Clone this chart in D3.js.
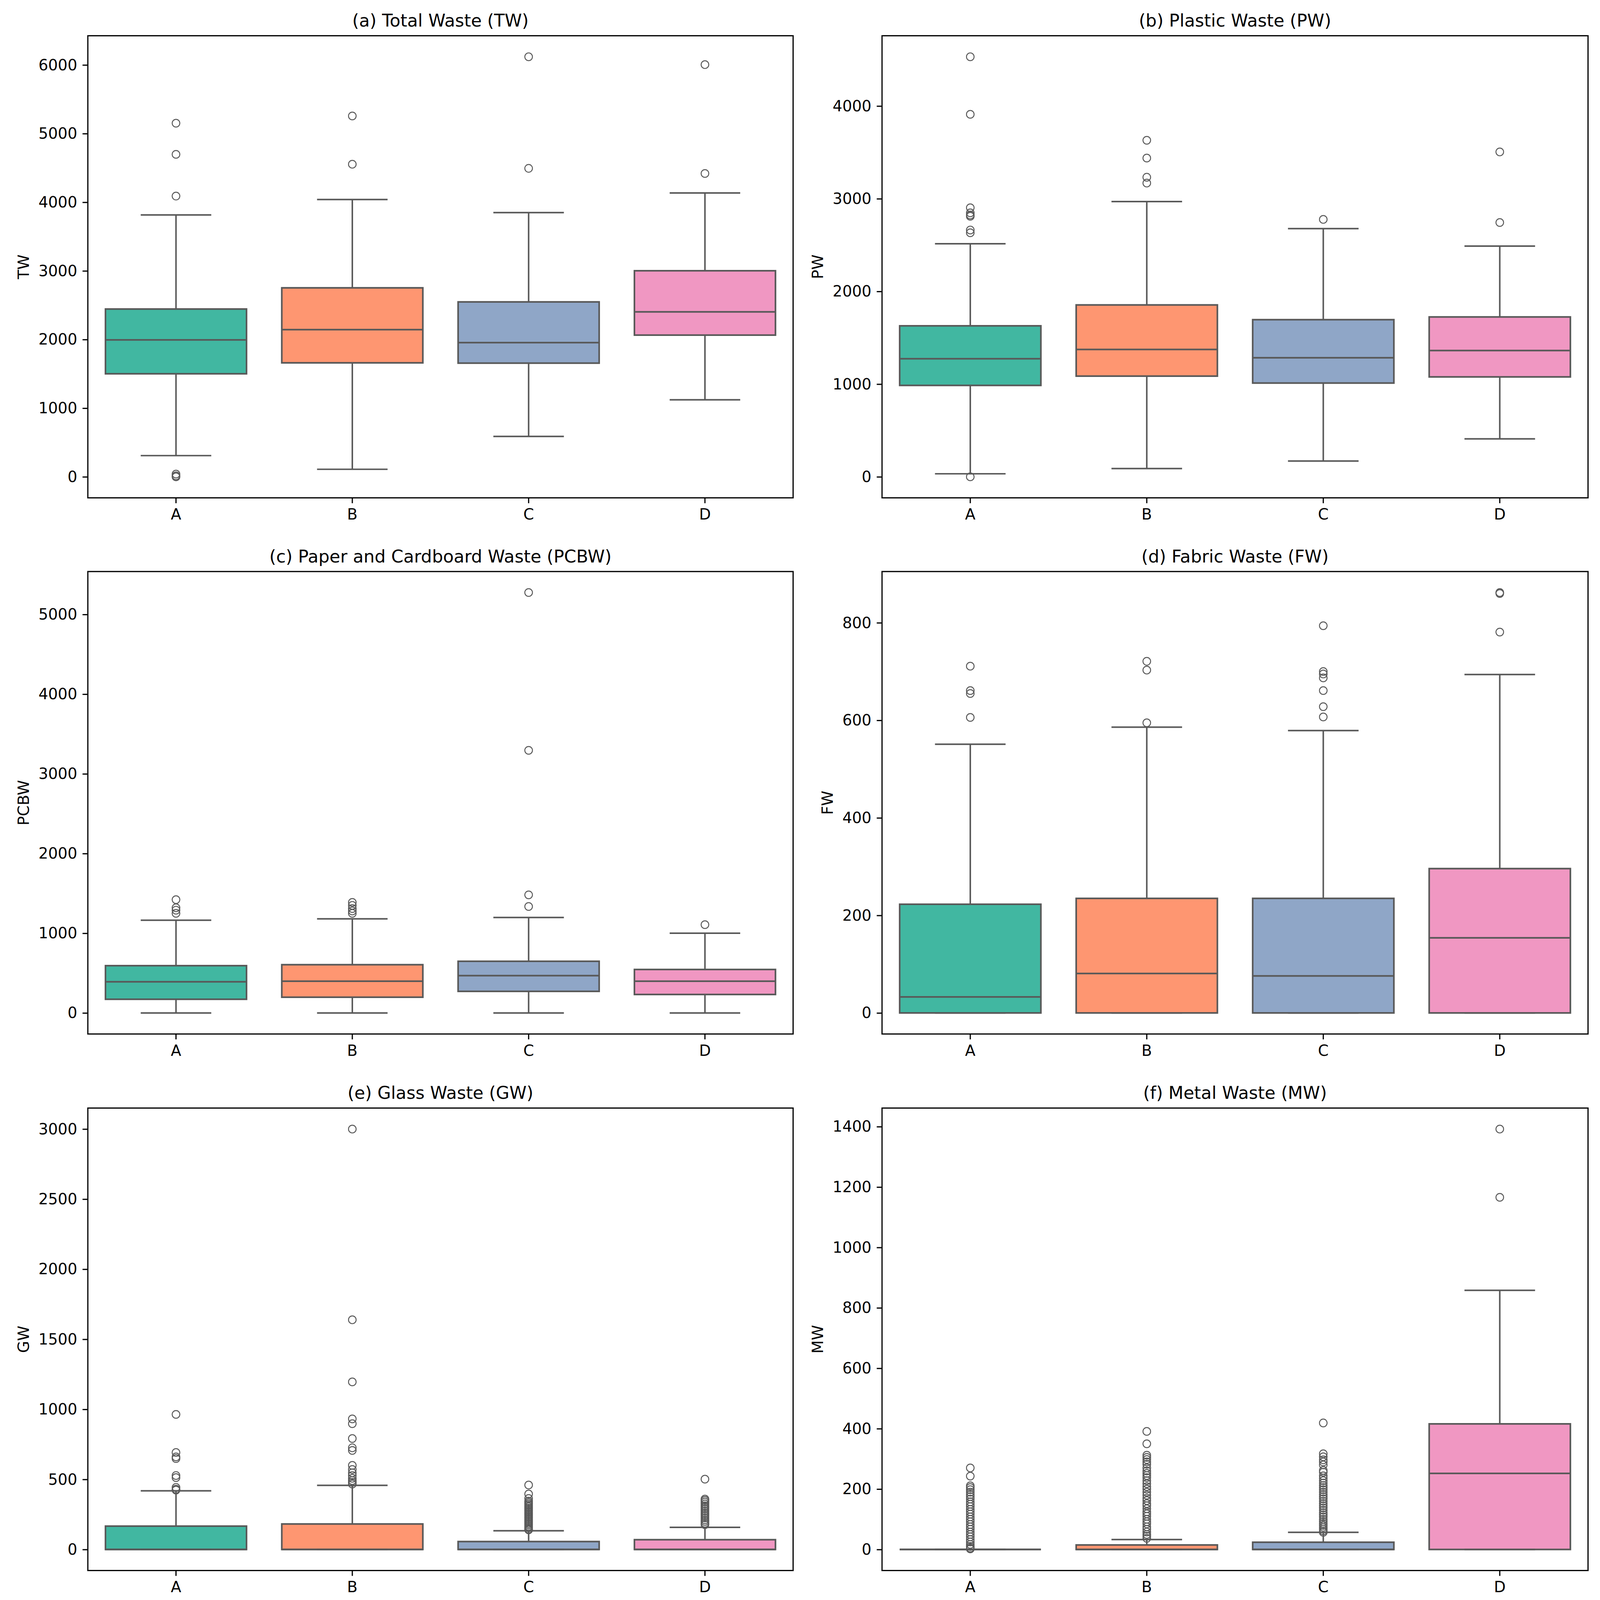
<!DOCTYPE html>
<html>

<head>
    <meta charset="utf-8">
    <title>Waste Composition by Group</title>
    <script src="https://d3js.org/d3.v7.min.js"></script>
    <style>
        html, body { margin: 0; padding: 0; background: #fff; overflow: hidden; }
        svg { display: block; }
        text { font-family: "DejaVu Sans", sans-serif; }
    </style>
</head>

<body>
    <div id="chart"></div>

    <script>
        // groups on the x axis
        var groups = ["A", "B", "C", "D"];
        var boxColors = ["#41b7a1", "#fe9671", "#8fa6c7", "#f097c2"];

        // box stats per group: [q1, median, q3, lower whisker, upper whisker]
        var twStats = [[1501, 1995, 2444, 309, 3815], [1661, 2145, 2753, 110, 4040], [1656, 1955, 2549, 589, 3850], [2065, 2404, 3002, 1122, 4135]];
        var twOutliers = [[5152, 4698, 4090, 40, 15, 0], [5257, 4554], [6120, 4494], [6005, 4419]];

        var pwStats = [[986, 1274, 1629, 33, 2515], [1086, 1374, 1854, 89, 2970], [1012, 1285, 1695, 170, 2678], [1078, 1363, 1725, 410, 2489]];
        var pwOutliers = [[4532, 3911, 2903, 2848, 2825, 2811, 2663, 2633, 0], [3631, 3439, 3232, 3169], [2777], [3505, 2744]];

        var pcbwStats = [[172, 391, 593, 0, 1164], [198, 399, 606, 0, 1181], [271, 468, 649, 0, 1198], [232, 399, 546, 0, 1001]];
        var pcbwOutliers = [[1422, 1320, 1290, 1250], [1387, 1350, 1310, 1280, 1250], [5275, 3295, 1482, 1336], [1108]];

        var fwStats = [[0, 33, 223, 0, 551], [0, 81, 235, 0, 586], [0, 76, 235, 0, 579], [0, 154, 296, 0, 694]];
        var fwOutliers = [[711, 661, 655, 606], [721, 703, 595], [794, 700, 695, 687, 661, 628, 607], [862, 860, 781]];

        var gwStats = [[0, 0, 167, 0, 419], [0, 0, 182, 0, 458], [0, 0, 57, 0, 134], [0, 0, 70, 0, 158]];
        var gwOutliers = [
            [964, 692, 661, 649, 528, 513, 443, 430, 424],
            [3000, 1639, 1196, 932, 898, 792, 726, 707, 600, 571, 547, 528, 508, 492, 479, 467],
            [460, 396, 364, 345, 335, 325, 315, 305, 295, 285, 275, 265, 255, 245, 235, 225, 215, 205, 195, 185, 175, 165, 155, 145, 140],
            [502, 360, 350, 338, 325, 312, 300, 288, 275, 262, 250, 238, 225, 212, 200, 188, 177]
        ];

        var mwStats = [[0, 0, 0, 0, 0], [0, 0, 15, 0, 33], [0, 0, 24, 0, 57], [0, 252, 416, 0, 858]];
        var mwOutliers = [
            [270, 243, 211, 205, 198, 190, 182, 175, 167, 158, 150, 142, 133, 125, 117, 108, 100, 92, 83, 75, 67, 58, 50, 42, 33, 25, 17, 10, 5, 2],
            [391, 350, 312, 305, 298, 290, 282, 270, 260, 252, 245, 238, 228, 218, 208, 200, 190, 180, 170, 162, 152, 145, 135, 125, 118, 110, 100, 92, 85, 75, 67, 58, 50, 44, 37],
            [419, 317, 307, 297, 290, 280, 262, 256, 244, 236, 228, 220, 212, 205, 198, 190, 182, 175, 168, 160, 152, 145, 138, 130, 122, 115, 108, 100, 93, 86, 80, 74, 68, 62, 57],
            [1392, 1166]
        ];

        // titles, axis labels and tick values
        var titles = ["(a) Total Waste (TW)", "(b) Plastic Waste (PW)", "(c) Paper and Cardboard Waste (PCBW)",
            "(d) Fabric Waste (FW)", "(e) Glass Waste (GW)", "(f) Metal Waste (MW)"];
        var yLabels = ["TW", "PW", "PCBW", "FW", "GW", "MW"];
        var twTicks = [0, 1000, 2000, 3000, 4000, 5000, 6000];
        var pwTicks = [0, 1000, 2000, 3000, 4000];
        var pcbwTicks = [0, 1000, 2000, 3000, 4000, 5000];
        var fwTicks = [0, 200, 400, 600, 800];
        var gwTicks = [0, 500, 1000, 1500, 2000, 2500, 3000];
        var mwTicks = [0, 200, 400, 600, 800, 1000, 1200, 1400];

        var allStats = [twStats, pwStats, pcbwStats, fwStats, gwStats, mwStats];
        var allOutliers = [twOutliers, pwOutliers, pcbwOutliers, fwOutliers, gwOutliers, mwOutliers];
        var allTicks = [twTicks, pwTicks, pcbwTicks, fwTicks, gwTicks, mwTicks];

        // figure layout in figure pixels; the svg viewBox scales it to the window
        var W = 4408, H = 4342;
        var colX = [[242, 2185], [2430, 4375]];
        var rowY = [[97, 1351], [1551, 2806], [3007, 4262]];
        var tickFont = 42, titleFont = 48, lineColor = "#595959";

        var vw = window.innerWidth || W, vh = window.innerHeight || H;
        var svg = d3.select("#chart").append("svg")
            .attr("viewBox", `0 0 ${W} ${H}`)
            .attr("preserveAspectRatio", "none")
            .attr("width", vw)
            .attr("height", vh);

        function drawPanel(i) {
            var x0 = colX[i % 2][0], x1 = colX[i % 2][1];
            var y0 = rowY[Math.floor(i / 2)][0], y1 = rowY[Math.floor(i / 2)][1];
            var stats = allStats[i], outliers = allOutliers[i];
            var g = svg.append("g");

            // y range like matplotlib autoscale: data extent plus 5% margins
            var vals = [];
            stats.forEach(s => vals.push(...s));
            outliers.forEach(o => vals.push(...o));
            var lo = d3.min(vals), hi = d3.max(vals), span = hi - lo;

            var x = d3.scaleBand().domain(groups).range([x0, x1]).padding(0);
            var y = d3.scaleLinear().domain([lo - 0.05 * span, hi + 0.05 * span]).range([y1, y0]);
            var bw = x.bandwidth() * 0.8;

            groups.forEach(function (grp, k) {
                var s = stats[k];
                var cx = x(grp) + x.bandwidth() / 2;
                var q1 = y(s[0]), med = y(s[1]), q3 = y(s[2]), wlo = y(s[3]), whi = y(s[4]);

                // box as a path so zero-height boxes still show
                g.append("path")
                    .attr("d", `M${cx - bw / 2},${q3}H${cx + bw / 2}V${q1}H${cx - bw / 2}Z`)
                    .attr("fill", boxColors[k])
                    .attr("stroke", lineColor)
                    .attr("stroke-width", 4.5);

                // whiskers and caps
                [[q3, whi], [q1, wlo]].forEach(function (w) {
                    g.append("line").attr("x1", cx).attr("x2", cx).attr("y1", w[0]).attr("y2", w[1])
                        .attr("stroke", lineColor).attr("stroke-width", 4.2);
                    g.append("line").attr("x1", cx - bw / 4).attr("x2", cx + bw / 4).attr("y1", w[1]).attr("y2", w[1])
                        .attr("stroke", lineColor).attr("stroke-width", 4.2);
                });

                // median
                g.append("line").attr("x1", cx - bw / 2).attr("x2", cx + bw / 2).attr("y1", med).attr("y2", med)
                    .attr("stroke", lineColor).attr("stroke-width", 4.5);

                // fliers
                g.selectAll(null)
                    .data(outliers[k])
                    .enter().append("circle")
                    .attr("cx", cx)
                    .attr("cy", d => y(d))
                    .attr("r", 10.5)
                    .attr("fill", "none")
                    .attr("stroke", lineColor)
                    .attr("stroke-width", 2.6);
            });

            // y axis
            var yAxis = g.append("g")
                .attr("transform", `translate(${x0},0)`)
                .call(d3.axisLeft(y).tickValues(allTicks[i]).tickSize(14.6).tickPadding(14.6).tickFormat(d3.format("d")));
            yAxis.select(".domain").remove();
            yAxis.selectAll("line").attr("stroke", "#000").attr("stroke-width", 3.3);
            yAxis.selectAll("text").attr("font-size", tickFont).attr("fill", "#000")
                .attr("font-family", "DejaVu Sans, sans-serif");

            // x axis
            var xAxis = g.append("g")
                .attr("transform", `translate(0,${y1})`)
                .call(d3.axisBottom(x).tickSize(14.6).tickPadding(14.6));
            xAxis.select(".domain").remove();
            xAxis.selectAll("line").attr("stroke", "#000").attr("stroke-width", 3.3);
            xAxis.selectAll("text").attr("font-size", tickFont).attr("fill", "#000")
                .attr("font-family", "DejaVu Sans, sans-serif");

            // frame
            g.append("rect")
                .attr("x", x0).attr("y", y0)
                .attr("width", x1 - x0).attr("height", y1 - y0)
                .attr("fill", "none").attr("stroke", "#000").attr("stroke-width", 3.3);

            // title
            g.append("text")
                .attr("x", (x0 + x1) / 2)
                .attr("y", y0 - 25)
                .attr("text-anchor", "middle")
                .attr("font-size", titleFont)
                .text(titles[i]);

            // y label placed left of the widest tick label
            var maxW = d3.max(yAxis.selectAll("text").nodes(), n => n.getBBox().width);
            var lx = x0 - 14.6 - 14.6 - maxW - 16.7 - 0.23 * tickFont;
            g.append("text")
                .attr("transform", `translate(${lx},${(y0 + y1) / 2}) rotate(-90)`)
                .attr("text-anchor", "middle")
                .attr("font-size", tickFont)
                .text(yLabels[i]);
        }

        for (var i = 0; i < 6; i++) drawPanel(i);
    </script>
</body>

</html>
